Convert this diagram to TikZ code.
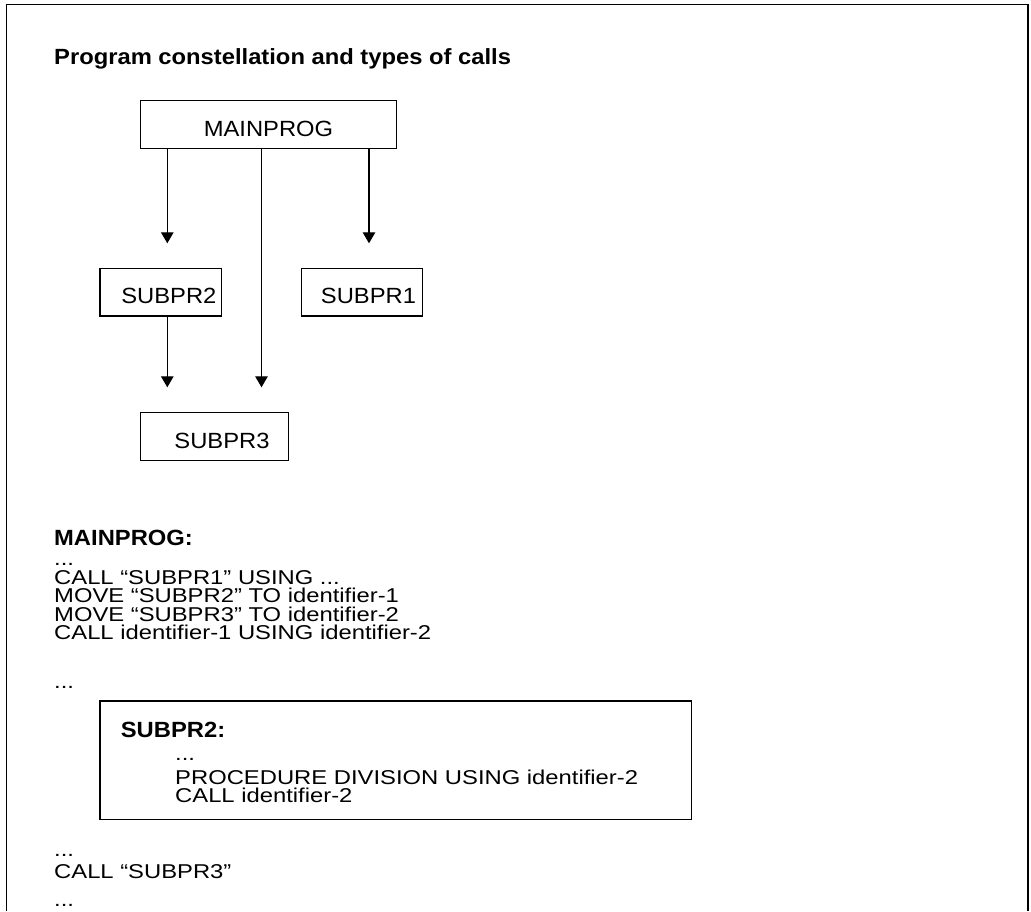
\documentclass[tikz,border=0pt]{standalone}
\usepackage{fontspec}
\setmainfont[FakeStretch=1.08]{Liberation Sans}
\newfontfamily\codefont[FakeStretch=1.19]{Liberation Sans}
\usetikzlibrary{arrows.meta}

\tikzset{
  every node/.style={font=\fontsize{22}{22}\selectfont, inner sep=0pt},
  prog/.style={draw, line width=1.2pt, inner xsep=3pt, text height=23.5pt, text depth=0pt},
  txt/.style={anchor=base west, font=\codefont\fontsize{20}{20}\selectfont},
  head/.style={anchor=base west, font=\fontsize{22}{22}\selectfont\bfseries},
  call/.style={line width=1.2pt, -{Triangle[length=11pt,width=12.5pt]}},
  frame/.style={line width=1.6pt}
}

\begin{document}
\begin{tikzpicture}[x=1pt, y=-1pt]
  \useasboundingbox (0,0) rectangle (1031,911);

  % outer frame, open at the bottom
  \draw[frame] (6.3,911) -- (6.3,4.5) -- (1028,4.5) -- (1028,911);

  % title
  \node[head] (title) at (54,64) {Program constellation and types of calls};

  % program boxes
  \node[prog, minimum width=256.4pt, minimum height=48pt] (mp) at (268.5,124.3) {MAINPROG};
  \node[prog, minimum width=121.7pt, minimum height=47.7pt] (s2) at (160.85,292.15) {\hspace*{16pt}SUBPR2};
  \node[prog, minimum width=121pt, minimum height=47.7pt] (s1) at (362.2,292.15) {\hspace*{12.6pt}SUBPR1};
  \node[prog, minimum width=148pt, minimum height=48pt] (s3) at (214.7,436.3) {\hspace*{14.6pt}SUBPR3};

  % arrow ends
  \coordinate (e2) at (167.3,243.3);
  \coordinate (e1) at (369,243.3);
  \coordinate (e3a) at (167.3,387.3);
  \coordinate (e3b) at (261.5,387.3);

  % calls
  \draw[call] (mp.south -| e2) -- (e2);
  \draw[call] (mp.south -| e1) -- (e1);
  \draw[call] (mp.south -| e3b) -- (e3b);
  \draw[call] (s2.south -| e3a) -- (e3a);

  % source of MAINPROG
  \node[head] (mphead) at (54,545) {MAINPROG:};
  \node[txt] (m0) at (54,565) {...};
  \node[txt] (m1) at (54,584.3) {CALL “SUBPR1” USING ...};
  \node[txt] (m2) at (54,602.7) {MOVE “SUBPR2” TO identifier-1};
  \node[txt] (m3) at (54,621) {MOVE “SUBPR3” TO identifier-2};
  \node[txt] (m4) at (54,639.3) {CALL identifier-1 USING identifier-2};
  \node[txt] (m5) at (54,688) {...};

  % source of SUBPR2
  \draw[line width=1.2pt] (100,701) rectangle (691.7,819.3);
  \node[head] (s2head) at (120.7,737.3) {SUBPR2:};
  \node[txt] (p0) at (175,760) {...};
  \node[txt] (p1) at (175,784) {PROCEDURE DIVISION USING identifier-2};
  \node[txt] (p2) at (175,802.5) {CALL identifier-2};

  % rest of MAINPROG
  \node[txt] (m6) at (54,856) {...};
  \node[txt] (m7) at (54,878) {CALL “SUBPR3”};
  \node[txt] (m8) at (54,906) {...};
\end{tikzpicture}
\end{document}
